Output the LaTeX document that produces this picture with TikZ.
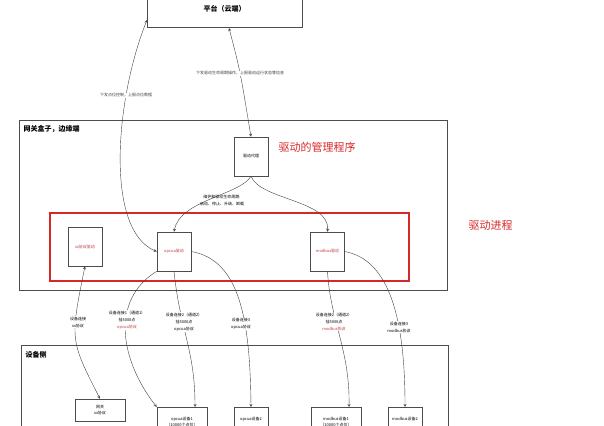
\documentclass[tikz,border=0pt]{standalone}
\usepackage{fontspec}
\setmainfont{Noto Sans CJK SC}
\usetikzlibrary{positioning}
\definecolor{boxred}{RGB}{215,40,40}
\definecolor{txtred}{RGB}{190,60,70}

\tikzset{
  box/.style={draw=black!70, fill=white, line width=0.5pt, inner sep=0pt, align=center, font=\fontsize{4}{6}\selectfont},
  lbl/.style={align=center, font=\fontsize{4}{7}\selectfont, fill=white, inner sep=0.5pt},
  conn/.style={->, >=stealth, black!75, line width=0.4pt},
  biconn/.style={<->, >=stealth, black!75, line width=0.4pt}
}

\begin{document}
\begin{tikzpicture}[x=1pt,y=-1pt]
\useasboundingbox (0,0) rectangle (604,425);
\clip (0,0) rectangle (604,425);

% Frames
\draw[black!70, line width=0.5pt] (19,120) rectangle (447,290);
\node[anchor=north west, font=\bfseries\fontsize{7}{8}\selectfont] at (20,122) {网关盒子，边缘端};
\draw[black!70, line width=0.5pt] (21,345) rectangle (448,440);
\node[anchor=north west, font=\bfseries\fontsize{7}{8}\selectfont] at (22,348) {设备侧};
\draw[boxred, line width=1.3pt] (50,213) rectangle (409,281);
\node[anchor=west, text=boxred, font=\fontsize{11}{12}\selectfont] at (465,225) {驱动进程};

% Platform
\draw[black!70, line width=0.5pt] (147,-15) rectangle (302,27);
\node[font=\bfseries\fontsize{7}{8}\selectfont] (cloud) at (224.5,9) {平台（云端）};

% Driver manager
\node[box, minimum width=34pt, minimum height=39pt] (agent) at (251,156.5) {驱动代理};
\node[anchor=west, text=boxred, font=\fontsize{11}{12}\selectfont] at (275,147) {驱动的管理程序};

% Drivers
\node[box, minimum width=34pt, minimum height=39pt, text=txtred] (xxdrv) at (85,246.5) {xx协议驱动};
\node[box, minimum width=34pt, minimum height=39pt, text=txtred] (opcdrv) at (174,251.5) {opcua驱动};
\node[box, minimum width=34pt, minimum height=39pt, text=txtred] (moddrv) at (327.5,251.5) {modbus驱动};

% Devices
\node[box, minimum width=50pt, minimum height=22pt] (gw) at (100,410) {网关\\xx协议};
\node[box, minimum width=50pt, minimum height=30pt, anchor=north] (opcdev1) at (182,407) {opcua设备1\\（10000个点位）};
\node[box, minimum width=34pt, minimum height=30pt, anchor=north] (opcdev2) at (251,407) {opcua设备2\\ };
\node[box, minimum width=50pt, minimum height=30pt, anchor=north] (moddev1) at (336,407) {modbus设备1\\（10000个点位）};
\node[box, minimum width=34pt, minimum height=30pt, anchor=north] (moddev2) at (405,407) {modbus设备2\\ };

% Cloud links
\draw[biconn] (229,28) .. controls (240,70) .. (agent.north)
  node[lbl, pos=0.5] {下发驱动生命周期操作，上报驱动运行状态等信息};
\draw[biconn] (opcdrv.west) .. controls (105,230) and (115,100) .. (147,20)
  node[lbl, pos=0.72] {下发点位控制，上报点位数据};

% Lifecycle
\draw[conn] (agent.south) .. controls (240,195) and (180,200) .. (opcdrv.north);
\draw[conn] (agent.south) .. controls (260,200) and (330,200) .. (moddrv.north);
\node[lbl, fill=none] (life) at (222,200) {维护和驱动生命周期:\\启动、停止、升级、卸载};

% Device links
\draw[biconn] (xxdrv.south) .. controls (70,340) .. (gw.north);
\node[lbl] at (78,322) {设备连接\\xx协议};
\draw[conn] (opcdrv.south west) .. controls (110,300) and (120,360) .. (opcdev1.north west);
\node[lbl] at (127,320) {设备连接1（通道1）\\挂5000点\\\textcolor{txtred}{opcua协议}};
\draw[conn] (opcdrv.south) .. controls (180,330) and (195,350) .. ([xshift=13pt]opcdev1.north);
\node[lbl] at (184,322) {设备连接2（通道2）\\挂5000点\\opcua协议};
\draw[conn] (opcdrv.east) .. controls (240,260) and (250,320) .. (opcdev2.north);
\node[lbl] at (241,324) {设备连接3\\opcua协议};
\draw[conn] (moddrv.south) .. controls (330,320) and (350,350) .. ([xshift=13pt]moddev1.north);
\node[lbl] at (334,322) {设备连接2（通道2）\\挂5000点\\\textcolor{txtred}{modbus协议}};
\draw[conn] (moddrv.east) .. controls (390,260) and (405,320) .. (moddev2.north);
\node[lbl] at (399,327) {设备连接3\\modbus协议};
\end{tikzpicture}
\end{document}
